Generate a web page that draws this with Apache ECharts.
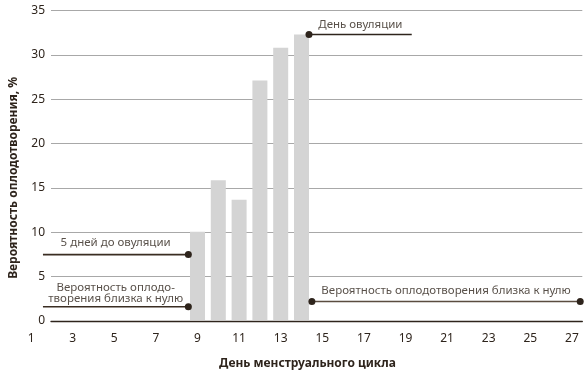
<!DOCTYPE html>
<html>
<head>
<meta charset="utf-8">
<script src="https://cdn.jsdelivr.net/npm/echarts@6/dist/echarts.min.js"></script>
<style>
html,body{margin:0;padding:0;background:#fff;}
#chart{width:588px;height:375px;}
</style>
</head>
<body>
<div id="chart"></div>
<script>
// ---- data ----
const days = [9, 10, 11, 12, 13, 14];
const probability = [10, 15.8, 13.6, 27.1, 30.8, 32.3];
const xTickLabels = [1, 3, 5, 7, 9, 11, 13, 15, 17, 19, 21, 23, 25, 27];
const yTickLabels = [0, 5, 10, 15, 20, 25, 30, 35];

// annotations: start day, end day, level (%), text
const annoStart = [14.36, 1.57, 1.57, 14.5];
const annoEnd = [19.3, 8.56, 8.56, 27.4];
const annoLevel = [32.3, 7.4, 1.5, 2.1];
const annoText = [
  'День овуляции',
  '5 дней до овуляции',
  'Вероятность оплодо-\nтворения близка к нулю',
  'Вероятность оплодотворения близка к нулю'
];
const annoDotStart = [true, false, false, true];
const annoDotEnd = [false, true, true, true];

// ---- styles ----
const FONT = 'Noto Sans';
const DARK = '#2e241c';
const labelOffsets = [-9.5, -11.5, -13.5, -11];
const lineColors = ['#2e241c', '#3a2d22', '#3a2d22', '#5a4c40'];

const annoSeries = [];
const textData = [];
for (let i = 0; i < annoText.length; i++) {
  annoSeries.push({
    type: 'line',
    xAxisIndex: 1, yAxisIndex: 1,
    silent: true,
    symbolSize: 7,
    showSymbol: true,
    showAllSymbol: true,
    lineStyle: { color: lineColors[i], width: 1.6 },
    itemStyle: { color: DARK },
    z: 5,
    data: [
      { value: [annoStart[i], annoLevel[i]], symbol: annoDotStart[i] ? 'circle' : 'none' },
      { value: [annoEnd[i], annoLevel[i]], symbol: annoDotEnd[i] ? 'circle' : 'none' }
    ]
  });
  textData.push({
    value: [(annoStart[i] + annoEnd[i]) / 2, annoLevel[i]],
    label: {
      show: true,
      position: 'inside',
      offset: [0, labelOffsets[i]],
      formatter: annoText[i],
      align: 'center'
    }
  });
}

const chart = echarts.init(document.getElementById('chart'), null, { renderer: 'canvas' });
const option = {
  animation: false,
  backgroundColor: '#ffffff',
  textStyle: { fontFamily: FONT },
  grid: [
    { left: 49, right: 5.7, top: 10.7, bottom: 54 },
    { left: 20.7, right: 5.7, top: 10.7, bottom: 54 }
  ],
  xAxis: [
    {
      gridIndex: 0, type: 'value', min: 0, max: 1,
      axisLine: { show: true, lineStyle: { color: DARK, width: 1.3 } },
      axisTick: { show: false }, axisLabel: { show: false }, splitLine: { show: false }
    },
    {
      gridIndex: 1, type: 'value', min: 0.5, max: 27.5,
      axisLine: { show: false }, axisTick: { show: false }, splitLine: { show: false },
      axisLabel: {
        customValues: xTickLabels,
        color: DARK, fontFamily: FONT, fontSize: 12, margin: 13,
        formatter: v => String(v)
      },
      name: 'День менструального цикла',
      nameLocation: 'middle', nameGap: 38,
      nameTextStyle: { color: DARK, fontFamily: FONT, fontSize: 12, fontWeight: 'bold', padding: [0, 0, 0, 12] }
    }
  ],
  yAxis: [
    {
      gridIndex: 0, type: 'value', min: 0, max: 35, interval: 5,
      axisLine: { show: false }, axisTick: { show: false },
      axisLabel: {
        customValues: yTickLabels,
        color: DARK, fontFamily: FONT, fontSize: 12, margin: 6
      },
      splitLine: { show: true, lineStyle: { color: '#a8a8a8', width: 1.2 } },
      name: 'Вероятность оплодотворения, %',
      nameLocation: 'middle', nameGap: 31,
      nameTextStyle: { color: DARK, fontFamily: FONT, fontSize: 12, fontWeight: 'bold', padding: [0, 24, 0, 0] }
    },
    {
      gridIndex: 1, type: 'value', min: 0, max: 35, show: false
    }
  ],
  series: [
    {
      type: 'bar',
      xAxisIndex: 1, yAxisIndex: 1,
      barWidth: 15,
      itemStyle: { color: '#d4d4d4' },
      data: days.map((d, i) => [d, probability[i]]),
      z: 3
    },
    ...annoSeries,
    {
      type: 'scatter',
      xAxisIndex: 1, yAxisIndex: 1,
      symbolSize: 0,
      silent: true,
      label: { color: DARK, fontFamily: FONT, fontSize: 11.5, lineHeight: 11.5 },
      data: textData,
      z: 6
    }
  ]
};
chart.setOption(option);
</script>
</body>
</html>
